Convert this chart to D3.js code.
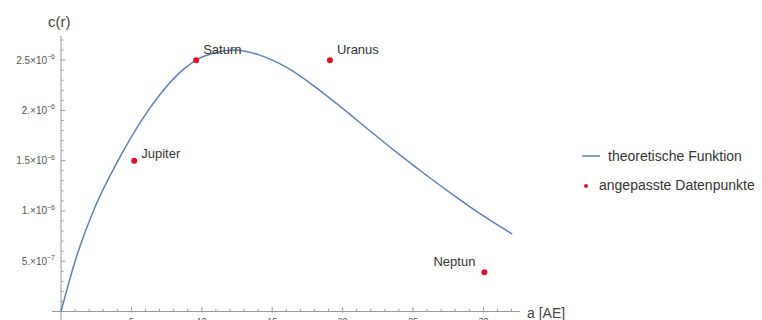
<!DOCTYPE html>
<html>
<head>
<meta charset="utf-8">
<script src="https://cdn.jsdelivr.net/npm/d3@7"></script>
<style>
  body { margin: 0; background: #fff; }
  svg { display: block; font-family: "Liberation Sans", Arial, sans-serif; }
</style>
</head>
<body>
<div id="chart"></div>
<script>
// curve (a in AE, c in units of 1e-6)
var curveA = [0, 1.0, 2.3, 4.05, 6.2, 8.8, 9.6, 11, 12.3, 14, 16, 18, 20, 22, 24, 26, 28, 30, 32.05];
var curveC = [0, 0.5, 1.0, 1.5, 2.0, 2.42, 2.5, 2.575, 2.6, 2.555, 2.43, 2.24, 2.02, 1.79, 1.565, 1.35, 1.145, 0.95, 0.77];

// fitted planets
var planetNames = ["Jupiter", "Saturn", "Uranus", "Neptun"];
var planetA = [5.2, 9.6, 19.1, 30.07];
var planetC = [1.5, 2.5, 2.5, 0.39];

var xTicks = [5, 10, 15, 20, 25, 30];
var yTicks = [0.5, 1.0, 1.5, 2.0, 2.5];
var yTickMant = ["5.", "1.", "1.5", "2.", "2.5"];
var yTickExp = ["-7", "-6", "-6", "-6", "-6"];

var legendLabels = ["theoretische Funktion", "angepasste Datenpunkte"];

var width = 762, height = 320;
var lineColor = "#5e81b5", dotColor = "#e0102a", axisColor = "#999";

var svg = d3.select("#chart").append("svg")
    .attr("width", width)
    .attr("height", height);

var x = d3.scaleLinear().domain([0, 32.6]).range([61, 520]);
var y = d3.scaleLinear().domain([0, 2.74]).range([311.5, 36]);

// axes
svg.append("line")
    .attr("x1", 52).attr("x2", x(32.6))
    .attr("y1", y(0)).attr("y2", y(0))
    .attr("stroke", axisColor);
svg.append("line")
    .attr("x1", x(0)).attr("x2", x(0))
    .attr("y1", 320).attr("y2", y(2.74))
    .attr("stroke", axisColor);

// x ticks, minor every 1
var xMinor = d3.range(1, 33).filter(function(d) { return d % 5 !== 0; });
svg.selectAll(".xminor").data(xMinor).enter().append("line")
    .attr("x1", function(d) { return x(d); }).attr("x2", function(d) { return x(d); })
    .attr("y1", y(0)).attr("y2", y(0) - 2.5)
    .attr("stroke", axisColor);
svg.selectAll(".xmajor").data(xTicks).enter().append("line")
    .attr("x1", function(d) { return x(d); }).attr("x2", function(d) { return x(d); })
    .attr("y1", y(0) + 1).attr("y2", y(0) - 4.5)
    .attr("stroke", axisColor);
svg.selectAll(".xlab").data(xTicks).enter().append("text")
    .attr("x", function(d) { return x(d); })
    .attr("y", 324)
    .attr("text-anchor", "middle")
    .attr("font-size", 9)
    .attr("fill", "#555")
    .text(function(d) { return d; });

// y ticks, minor every 0.1
var yMinor = d3.range(1, 28).map(function(d) { return d / 10; })
    .filter(function(d, i) { return (i + 1) % 5 !== 0; });
svg.selectAll(".yminor").data(yMinor).enter().append("line")
    .attr("x1", x(0)).attr("x2", x(0) + 2.5)
    .attr("y1", function(d) { return y(d); }).attr("y2", function(d) { return y(d); })
    .attr("stroke", axisColor);
svg.selectAll(".ymajor").data(yTicks).enter().append("line")
    .attr("x1", x(0)).attr("x2", x(0) + 4.5)
    .attr("y1", function(d) { return y(d); }).attr("y2", function(d) { return y(d); })
    .attr("stroke", axisColor);

var ylab = svg.selectAll(".ylab").data(yTicks).enter().append("text")
    .attr("x", 55)
    .attr("y", function(d) { return y(d) + 3.5; })
    .attr("text-anchor", "end")
    .attr("font-size", 10)
    .attr("fill", "#555");
ylab.append("tspan").text(function(d, i) { return yTickMant[i] + "\u00d710"; });
ylab.append("tspan")
    .attr("font-size", 7)
    .attr("dy", -4.5)
    .text(function(d, i) { return yTickExp[i].replace("-", "\u2212"); });

// axis titles
svg.append("text")
    .attr("x", 48).attr("y", 27)
    .attr("font-size", 15)
    .attr("fill", "#444")
    .text("c(r)");
svg.append("text")
    .attr("x", 527).attr("y", 318)
    .attr("font-size", 14)
    .attr("fill", "#444")
    .text("a [AE]");

// curve
var line = d3.line()
    .x(function(d) { return x(d[0]); })
    .y(function(d) { return y(d[1]); })
    .curve(d3.curveMonotoneX);
svg.append("path")
    .datum(d3.zip(curveA, curveC))
    .attr("d", line)
    .attr("fill", "none")
    .attr("stroke", lineColor)
    .attr("stroke-width", 1.5);

// planets
var planets = planetNames.map(function(n, i) { return { name: n, a: planetA[i], c: planetC[i] }; });
svg.selectAll(".dot").data(planets).enter().append("circle")
    .attr("cx", function(d) { return x(d.a); })
    .attr("cy", function(d) { return y(d.c); })
    .attr("r", 3)
    .attr("fill", dotColor);
svg.selectAll(".plab").data(planets).enter().append("text")
    .attr("x", function(d) { return d.name === "Neptun" ? x(d.a) - 9 : x(d.a) + 7; })
    .attr("y", function(d) { return y(d.c) - (d.name === "Jupiter" ? 3 : 6); })
    .attr("text-anchor", function(d) { return d.name === "Neptun" ? "end" : "start"; })
    .attr("font-size", 13)
    .attr("fill", "#333")
    .text(function(d) { return d.name; });

// legend
var leg = svg.append("g");
leg.append("line")
    .attr("x1", 582).attr("x2", 600)
    .attr("y1", 156).attr("y2", 156)
    .attr("stroke", lineColor)
    .attr("stroke-width", 1.5);
leg.append("circle")
    .attr("cx", 586).attr("cy", 186).attr("r", 2)
    .attr("fill", dotColor);
leg.selectAll("text").data(legendLabels).enter().append("text")
    .attr("x", function(d, i) { return i === 0 ? 608 : 599; })
    .attr("y", function(d, i) { return i === 0 ? 161 : 190; })
    .attr("font-size", 14)
    .attr("fill", "#333")
    .text(function(d) { return d; });
</script>
</body>
</html>
